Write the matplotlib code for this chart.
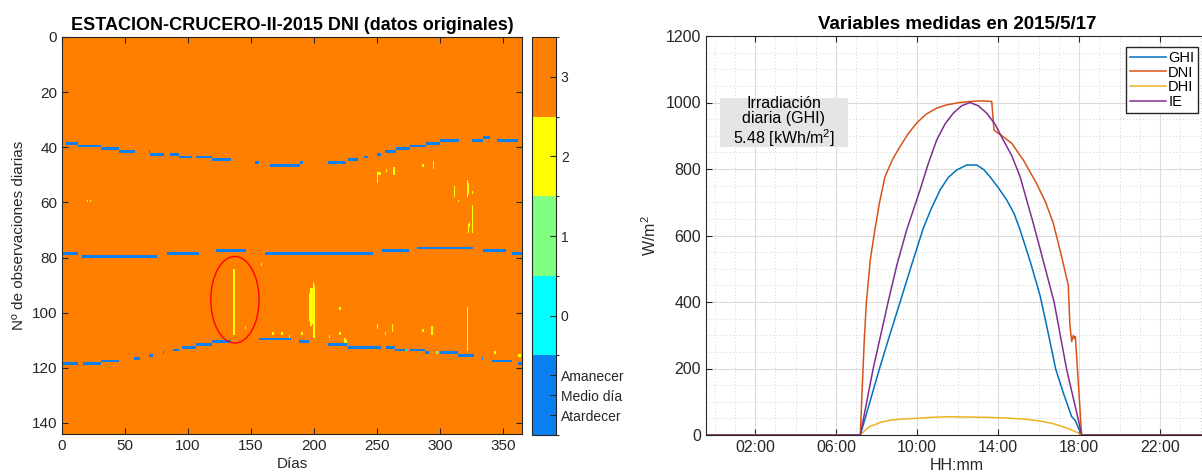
import numpy as np
import matplotlib
matplotlib.use("Agg")
import matplotlib.pyplot as plt
from matplotlib.colors import ListedColormap, BoundaryNorm
from matplotlib.patches import Ellipse, Rectangle
from matplotlib.ticker import MultipleLocator

plt.rcParams['font.family'] = ['Liberation Sans', 'DejaVu Sans']
plt.rcParams['mathtext.fontset'] = 'custom'
plt.rcParams['mathtext.rm'] = 'Liberation Sans'
plt.rcParams['mathtext.it'] = 'Liberation Sans:italic'

# ---- datos del mapa de calidad (365 dias x 144 observaciones) ----
N_DIAS = 365
N_OBS = 144

# (dia_ini, dia_fin, fila) -> marcas de amanecer / medio dia / atardecer
amanecer = [(3, 13, 38), (13, 31, 39), (31, 45, 40), (45, 58, 41), (69, 70, 41),
            (70, 81, 42), (86, 93, 42), (93, 103, 43), (106, 119, 43), (119, 134, 44),
            (153, 156, 45), (165, 189, 46), (189, 191, 45), (211, 225, 45), (227, 235, 44),
            (240, 243, 43), (250, 253, 42), (256, 265, 41), (265, 276, 40), (276, 289, 39),
            (289, 300, 38), (300, 315, 37), (325, 334, 37), (334, 340, 36), (345, 362, 37)]
medio_dia = [(0, 13, 78), (16, 75, 79), (83, 109, 78), (122, 146, 77), (161, 247, 78),
             (254, 275, 77), (282, 326, 76), (334, 352, 77), (357, 365, 78)]
atardecer = [(0, 13, 118), (17, 31, 118), (31, 45, 117), (57, 62, 116), (69, 72, 115),
             (80, 81, 114), (88, 93, 113), (95, 106, 112), (106, 119, 111), (119, 134, 110),
             (156, 182, 109), (188, 196, 110), (211, 226, 111), (227, 253, 112), (257, 264, 112),
             (264, 272, 113), (276, 288, 113), (288, 291, 114), (300, 314, 114), (314, 327, 115),
             (333, 334, 116), (341, 357, 117), (362, 365, 118)]

# (dia, fila_ini, fila_fin) -> datos con flag 2
flag2 = [(20, 59, 59), (22, 59, 59), (250, 49, 52), (251, 49, 49), (252, 49, 49),
         (257, 48, 48), (263, 47, 49), (286, 46, 46), (294, 45, 47), (311, 54, 57),
         (314, 59, 59), (321, 52, 57), (322, 53, 56), (325, 56, 56), (325, 61, 70),
         (322, 68, 70), (323, 67, 68),
         (136, 84, 107), (145, 105, 105), (158, 82, 82), (167, 107, 107), (174, 107, 107),
         (180, 108, 108), (190, 107, 107), (196, 93, 102), (197, 91, 104), (198, 91, 103),
         (199, 89, 108), (200, 90, 108), (212, 108, 108), (220, 98, 98), (220, 107, 107),
         (224, 109, 110), (225, 110, 110), (250, 104, 105), (256, 107, 107), (262, 104, 106),
         (286, 106, 106), (293, 105, 107), (321, 98, 113), (343, 114, 114), (362, 115, 115),
         (363, 115, 115)]

# (dia, fila_ini, fila_fin, valor) -> otros flags sueltos
otros = [(0, 0, 3, 0), (0, 1, 1, 1), (273, 113, 113, 0), (297, 114, 114, 1)]

# ---- datos del dia 2015/5/17 (hora decimal, W/m2) ----
ghi_h = [-0.5, 7.2, 7.6, 8.14, 8.6, 9.16, 9.7, 10.31, 10.7, 11.14, 11.55, 11.96, 12.45,
         12.95, 13.3, 13.6, 14.0, 14.43, 14.8, 15.09, 15.6, 16.07, 16.45, 16.85, 17.25,
         17.64, 17.8, 18.13, 24.5]
ghi_v = [0, 0, 84, 198, 290, 399, 505, 622, 680, 737, 775, 797, 812,
         812, 798, 777, 745, 707, 665, 617, 520, 421, 315, 198, 122,
         55, 45, 0, 0]

dni_h = [-0.5, 7.2, 7.3, 7.4, 7.5, 7.7, 7.92, 8.15, 8.42, 8.8, 9.16, 9.55, 9.98, 10.45,
         10.97, 11.47, 12.12, 12.62, 13.2, 13.69, 13.8, 14.26, 14.68, 15.25, 15.9, 16.35,
         16.73, 17.1, 17.47, 17.55, 17.64, 17.72, 17.78, 17.82, 18.13, 24.5]
dni_v = [0, 0, 150, 290, 399, 530, 617, 700, 777, 830, 867, 905, 938, 965,
         983, 993, 1000, 1003, 1005, 1003, 917, 897, 877, 827, 757, 700,
         637, 547, 451, 330, 281, 300, 290, 296, 0, 0]

dhi_h = [-0.5, 7.2, 7.45, 7.65, 8.2, 8.72, 9.3, 9.95, 10.7, 11.53, 12.5, 13.5, 14.4,
         15.26, 16.0, 16.67, 17.1, 17.56, 17.9, 18.13, 24.5]
dhi_v = [0, 0, 15, 25, 38, 45, 48, 50, 53, 55, 54, 53, 51,
         48, 43, 35, 27, 17, 8, 0, 0]

ie_h = [-0.5, 7.2, 7.83, 8.57, 9.0, 9.49, 10.15, 10.55, 10.97, 11.38, 11.79, 12.2, 12.62,
        13.03, 13.44, 13.85, 14.26, 14.68, 15.09, 15.74, 16.07, 16.77, 17.38, 17.95,
        18.13, 24.5]
ie_v = [0, 0, 198, 399, 510, 617, 737, 815, 887, 935, 968, 990, 1000,
        990, 968, 935, 887, 840, 777, 637, 562, 400, 200, 50,
        0, 0]

x_ticks_h = [2, 6, 10, 14, 18, 22]
x_ticklabels = ['02:00', '06:00', '10:00', '14:00', '18:00', '22:00']

cb_ticks = [-1.25, -1, -0.75, 0, 1, 2, 3]
cb_labels = ['Atardecer', 'Medio día', 'Amanecer', '0', '1', '2', '3']

# construir la matriz de flags
M = np.full((N_OBS, N_DIAS), 3)
for segs in (amanecer, medio_dia, atardecer):
    for d0, d1, f in segs:
        M[f, d0:d1] = -1
for d, f0, f1 in flag2:
    M[f0:f1 + 1, d] = 2
for d, f0, f1, v in otros:
    M[f0:f1 + 1, d] = v

cmap = ListedColormap(['#0a80f0', '#00ffff', '#80ff80', '#ffff00', '#ff8000'])
norm = BoundaryNorm([-1.5, -0.5, 0.5, 1.5, 2.5, 3.5], cmap.N)

fig = plt.figure(figsize=(12.02, 4.72), dpi=100)
W, H = 1202, 472

def px_axes(x0, x1, y0, y1):
    return fig.add_axes([x0 / W, 1 - y1 / H, (x1 - x0) / W, (y1 - y0) / H])

tick_col = '#262626'

# ---- panel izquierdo ----
ax1 = px_axes(62, 522, 37, 434)
im = ax1.imshow(M, cmap=cmap, norm=norm, aspect='auto', interpolation='nearest',
                extent=[0, N_DIAS, N_OBS, 0])
ax1.set_xlim(0, N_DIAS)
ax1.set_ylim(N_OBS, 0)
ax1.set_xticks(np.arange(0, 351, 50))
ax1.set_yticks(np.arange(0, 141, 20))
ax1.tick_params(direction='in', top=True, right=True, length=4, labelsize=11,
                colors=tick_col, labelcolor=tick_col)
ax1.set_xlabel('Días', fontsize=11, color=tick_col, labelpad=3)
ax1.set_ylabel('Nº de observaciones diarias', fontsize=11, color=tick_col, labelpad=4)
ax1.set_title('ESTACION-CRUCERO-II-2015 DNI (datos originales)', fontsize=13,
              fontweight='bold', pad=5)
ax1.add_patch(Ellipse((137.2, 95.3), 38.3, 31.4, fill=False, edgecolor='red', lw=1.0))
for s in ax1.spines.values():
    s.set_color(tick_col)

cax = px_axes(532, 556, 37, 435)
cb = fig.colorbar(im, cax=cax, ticks=cb_ticks)
cb.ax.set_yticklabels(cb_labels)
cb.ax.tick_params(direction='in', length=4, labelsize=10, colors=tick_col)
cb.outline.set_edgecolor(tick_col)

# ---- panel derecho ----
ax2 = px_axes(706, 1208, 36, 435)
ax2.plot(ghi_h, ghi_v, color='#0072BD', lw=1.1, label='GHI')
ax2.plot(dni_h, dni_v, color='#D95319', lw=1.1, label='DNI')
ax2.plot(dhi_h, dhi_v, color='#EDB120', lw=1.1, label='DHI')
ax2.plot(ie_h, ie_v, color='#7E2F8E', lw=1.1, label='IE')
ax2.set_xlim(-0.42, 24.37)
ax2.set_ylim(0, 1200)
ax2.set_xticks(x_ticks_h)
ax2.set_xticklabels(x_ticklabels)
ax2.set_yticks(np.arange(0, 1201, 200))
ax2.xaxis.set_minor_locator(MultipleLocator(1))
ax2.yaxis.set_minor_locator(MultipleLocator(50))
ax2.grid(True, which='major', color='#dcdcdc', lw=0.8)
ax2.grid(True, which='minor', color='#c4c4c4', lw=0.6, ls=(0, (1, 3)))
ax2.set_axisbelow(True)
ax2.tick_params(which='major', direction='in', top=True, right=True, length=4,
                labelsize=11.5, colors=tick_col)
ax2.tick_params(which='minor', length=0)
ax2.set_xlabel('HH:mm', fontsize=11.5, color=tick_col, labelpad=2)
ax2.set_ylabel('W/m$^2$', fontsize=11.5, color=tick_col, labelpad=5)
ax2.set_title('Variables medidas en 2015/5/17', fontsize=13.5, fontweight='bold', pad=5)
for s in ax2.spines.values():
    s.set_color(tick_col)

ax2.add_patch(Rectangle((0.27, 866), 6.33, 148, facecolor='#e5e5e5', edgecolor='none',
                        zorder=3))
ax2.text(3.43, 997, 'Irradiación', ha='center', va='center', fontsize=11.5, zorder=4)
ax2.text(3.43, 952, 'diaria (GHI)', ha='center', va='center', fontsize=11.5, zorder=4)
ax2.text(3.43, 893, '5.48 [kWh/m$^2$]', ha='center', va='center', fontsize=11.5, zorder=4)

leg = ax2.legend(loc='upper right', bbox_to_anchor=(0.98, 0.972), borderaxespad=0,
                 fontsize=10.5, handlelength=2.5, handletextpad=0.15, labelspacing=0.05,
                 borderpad=0.25, fancybox=False, framealpha=1)
leg.get_frame().set_edgecolor(tick_col)
leg.get_frame().set_linewidth(1.0)

fig.savefig('out.png', dpi=100)
